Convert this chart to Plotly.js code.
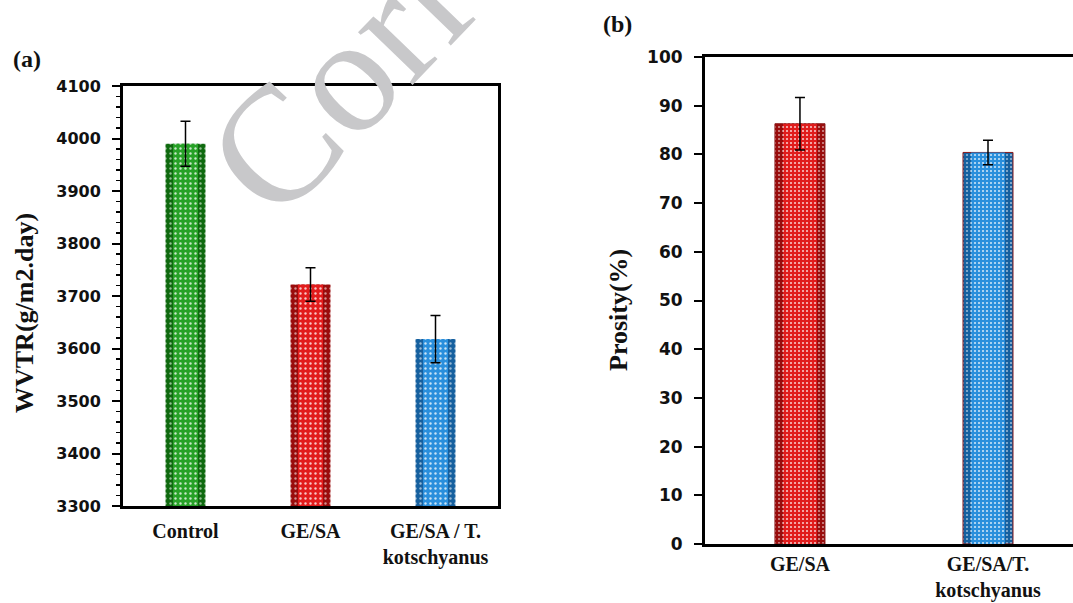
<!DOCTYPE html>
<html>
<head>
<meta charset="utf-8">
<script src="https://cdn.plot.ly/plotly-3.0.1.min.js"></script>
<style>
html,body{margin:0;padding:0;overflow:hidden;background:#fff;}
#chart{width:1073px;height:603px;}
</style>
</head>
<body>
<div id="chart"></div>
<script>
// ---- data ----
const wvtrCats = ['Control', 'GE/SA', 'GE/SA / T.<br>kotschyanus'];
const wvtrVals = [3990, 3722, 3618];
const wvtrErr = [43, 32, 45];
const wvtrColors = ['#27a127', '#e21c1c', '#2a8fdc'];
const wvtrDark = ['#0f6a0f', '#9a0c0c', '#16609f'];

const porCats = ['GE/SA', 'GE/SA/T.<br>kotschyanus'];
const porVals = [86.3, 80.4];
const porErr = [5.4, 2.5];
const porColors = ['#e01c1c', '#2a8fdc'];
const porDark = ['#9a0c0c', '#16609f'];

const wvtrTicks = [3300, 3400, 3500, 3600, 3700, 3800, 3900, 4000, 4100];
const porTicks = [0, 10, 20, 30, 40, 50, 60, 70, 80, 90, 100];

const W = 1073, H = 603;
const px = v => v / W;
const py = v => 1 - v / H;

const serif = 'Liberation Serif, Times New Roman, serif';
const sans = 'DejaVu Sans, Verdana, sans-serif';

function barLayers(cats, vals, errs, bright, dark, xa, ya, outerW, innerW, dotSize, sol, edge) {
  const out = [];
  cats.forEach((c, i) => {
    out.push({type: 'bar', x: [c], y: [vals[i]], xaxis: xa, yaxis: ya, width: outerW,
      marker: {color: dark[i], line: {width: edge ? 1 : 0, color: '#8b1a1a'},
               pattern: {shape: '.', bgcolor: dark[i], fgcolor: '#ffffff', fgopacity: 0.55,
                         fillmode: 'replace', size: dotSize, solidity: sol}},
      hoverinfo: 'skip', showlegend: false});
    out.push({type: 'bar', x: [c], y: [vals[i]], xaxis: xa, yaxis: ya, width: innerW,
      marker: {color: bright[i], line: {width: 0},
               pattern: {shape: '.', bgcolor: bright[i], fgcolor: '#ffffff', fgopacity: 0.75,
                         fillmode: 'replace', size: dotSize, solidity: sol}},
      error_y: {type: 'data', array: [errs[i]], visible: true, color: '#000', thickness: 1.5, width: 5},
      showlegend: false});
  });
  return out;
}

const traces = [].concat(
  barLayers(wvtrCats, wvtrVals, wvtrErr, wvtrColors, wvtrDark, 'x', 'y', 0.32, 0.2, 5, 0.18, false),
  barLayers(porCats, porVals, porErr, porColors, porDark, 'x2', 'y2', 0.266, 0.18, 4, 0.22, true)
);

const layout = {
  width: W, height: H,
  margin: {l: 0, r: 0, t: 0, b: 0},
  paper_bgcolor: '#fff', plot_bgcolor: 'rgba(0,0,0,0)',
  barmode: 'overlay',
  showlegend: false,
  xaxis: {domain: [px(123), px(498)], anchor: 'y', type: 'category', range: [-0.5, 2.5],
          categoryorder: 'array', categoryarray: wvtrCats,
          showline: true, linewidth: 3, linecolor: '#000', mirror: true, ticks: '',
          showgrid: false, zeroline: false, ticklabelstandoff: 5,
          tickfont: {family: serif, size: 20, color: '#111', weight: 'bold'}},
  yaxis: {domain: [py(506), py(86)], anchor: 'x', range: [3300, 4100],
          tickvals: wvtrTicks, ticks: 'outside', ticklen: 8, tickwidth: 2, tickcolor: '#000',
          minor: {dtick: 20, ticks: 'outside', ticklen: 4, tickwidth: 1.5, tickcolor: '#000', showgrid: false},
          showline: true, linewidth: 3, linecolor: '#000', mirror: true,
          showgrid: false, zeroline: false, ticklabelstandoff: 8,
          tickfont: {family: sans, size: 16, color: '#111', weight: 'bold'}},
  xaxis2: {domain: [px(705), 1], anchor: 'y2', type: 'category', range: [-0.505, 1.452],
           categoryorder: 'array', categoryarray: porCats,
           showline: true, linewidth: 3, linecolor: '#000', mirror: true, ticks: '',
           showgrid: false, zeroline: false, ticklabelstandoff: 0,
           tickfont: {family: serif, size: 20, color: '#111', weight: 'bold'}},
  yaxis2: {domain: [py(544), py(57)], anchor: 'x2', range: [0, 100],
           tickvals: porTicks, ticks: 'outside', ticklen: 8, tickwidth: 2, tickcolor: '#000',
           showline: true, linewidth: 3, linecolor: '#000', mirror: false,
           showgrid: false, zeroline: false, ticklabelstandoff: 8,
           tickfont: {family: sans, size: 17, color: '#111', weight: 'bold'}},
  annotations: [
    {text: 'WVTR(g/m2.day)', xref: 'paper', yref: 'paper', x: px(24), y: py(313),
     xanchor: 'center', yanchor: 'middle', textangle: -90, showarrow: false,
     font: {family: serif, size: 26, color: '#111', weight: 'bold'}},
    {text: 'Prosity(%)', xref: 'paper', yref: 'paper', x: px(618), y: py(310),
     xanchor: 'center', yanchor: 'middle', textangle: -90, showarrow: false,
     font: {family: serif, size: 26, color: '#111', weight: 'bold'}},
    {text: '(a)', xref: 'paper', yref: 'paper', x: px(27), y: py(59),
     xanchor: 'center', yanchor: 'middle', showarrow: false,
     font: {family: serif, size: 24, color: '#111', weight: 'bold'}},
    {text: '(b)', xref: 'paper', yref: 'paper', x: px(617), y: py(24),
     xanchor: 'center', yanchor: 'middle', showarrow: false,
     font: {family: serif, size: 24, color: '#111', weight: 'bold'}},
    {text: 'Corrected', xref: 'paper', yref: 'paper', x: px(462), y: py(-47),
     xanchor: 'center', yanchor: 'middle', textangle: -46, showarrow: false,
     font: {family: serif, size: 165, color: '#c8c8ca'}}
  ]
};

Plotly.newPlot('chart', traces, layout, {displayModeBar: false, staticPlot: true});
</script>
</body>
</html>
